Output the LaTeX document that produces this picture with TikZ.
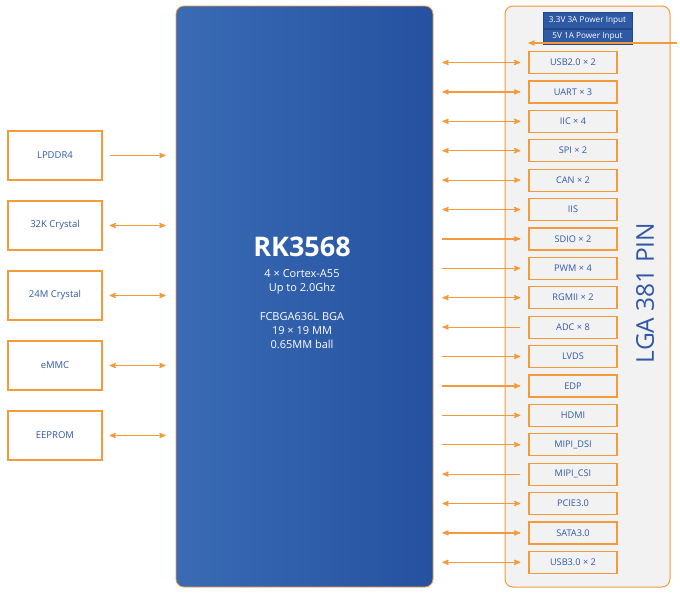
\documentclass[tikz,border=0pt]{standalone}
\usepackage{fontspec}
\setmainfont{Open Sans}
\usepackage{tikz}
\usetikzlibrary{arrows}
\usetikzlibrary{positioning}
\definecolor{rkorange}{HTML}{F39A3B}
\definecolor{rkblue}{HTML}{3158A6}
\definecolor{chipleft}{HTML}{3A6BB4}
\definecolor{chipright}{HTML}{2551A0}
\definecolor{panelgray}{HTML}{F2F2F2}
\definecolor{pwrblue}{HTML}{2D59A5}
\tikzset{
  link/.style={rkorange,line width=1.2pt,>=stealth'},
  dual/.style={<->},
  fwd/.style={->},
  back/.style={<-},
  membox/.style={draw=rkorange,line width=1.2pt,fill=white,minimum width=94pt,minimum height=49pt,
    text=rkblue,font=\fontsize{9.5}{11}\selectfont},
  pinbox/.style={draw=rkorange,line width=1.2pt,fill=panelgray,minimum width=88pt,minimum height=22pt,
    text=rkblue,font=\fontsize{9.2}{10}\selectfont},
  pwrbox/.style={draw=pwrblue!80!black,line width=.8pt,fill=pwrblue,minimum width=89pt,minimum height=15.5pt,
    inner sep=0pt,text=white,font=\fontsize{8.2}{9}\selectfont}
}

\begin{document}
\begin{tikzpicture}[x=1pt,y=1pt]
\useasboundingbox (0,0) rectangle (680,-595);

% chip and pin panel
\node[draw=rkorange,line width=.8pt,rounded corners=8pt,left color=chipleft,right color=chipright,
  minimum width=257pt,minimum height=581pt] (chip) at (304.5,-296.5) {};
\node[text=white,align=center,font=\fontsize{11}{14}\selectfont] (chiptxt) at (302,-292.5)
  {{\fontsize{27}{30}\selectfont\bfseries RK3568}\\[7pt]
  4 × Cortex-A55\\Up to 2.0Ghz\\[15pt]FCBGA636L BGA\\19 × 19 MM\\0.65MM ball};
\node[draw=rkorange,line width=1pt,rounded corners=8pt,fill=panelgray,
  minimum width=165pt,minimum height=581pt] (lga) at (587.5,-296.5) {};
\node[rotate=90,text=rkblue,font=\fontsize{24.5}{28}\selectfont] (lgatxt) at (645,-293) {LGA 381 PIN};

% power input
\node[pwrbox] (pwra) at (587.5,-20.5) {3.3V 3A Power Input};
\node[pwrbox,below=0pt of pwra] (pwrb) {5V 1A Power Input};

% left side
\foreach \name/\lbl/\dir [count=\i] in {lpddr/LPDDR4/fwd,xtalk/32K Crystal/dual,xtalm/24M Crystal/dual,
    emmc/eMMC/dual,eeprom/EEPROM/dual} {
  \node[membox] (\name) at (55,{-155.5-70*(\i-1)}) {\lbl};
  \draw[link,\dir,shorten <=7pt,shorten >=10pt] (\name.east) -- (\name.east -| chip.west);
}

% right side
\foreach \name/\lbl/\dir [count=\i] in {usbb/USB2.0 × 2/dual,uart/UART × 3/dual,iic/IIC × 4/dual,
    spi/SPI × 2/dual,can/CAN × 2/dual,iis/IIS/dual,sdio/SDIO × 2/fwd,pwm/PWM × 4/fwd,
    rgmii/RGMII × 2/dual,adc/ADC × 8/back,lvds/LVDS/fwd,edp/EDP/fwd,hdmi/HDMI/fwd,
    dsi/MIPI\_DSI/fwd,csi/MIPI\_CSI/back,pcie/PCIE3.0/dual,sata/SATA3.0/dual,usbc/USB3.0 × 2/dual} {
  \node[pinbox] (\name) at (573,{-62.5-29.4*(\i-1)}) {\lbl};
  \draw[link,\dir,shorten <=9pt,shorten >=8pt] (\name.west -| chip.east) -- (\name.west);
}

\coordinate (pwrin) at (677,-43);
\draw[link,->] (pwrin) -- (pwrin -| usbb.west);
\end{tikzpicture}
\end{document}
